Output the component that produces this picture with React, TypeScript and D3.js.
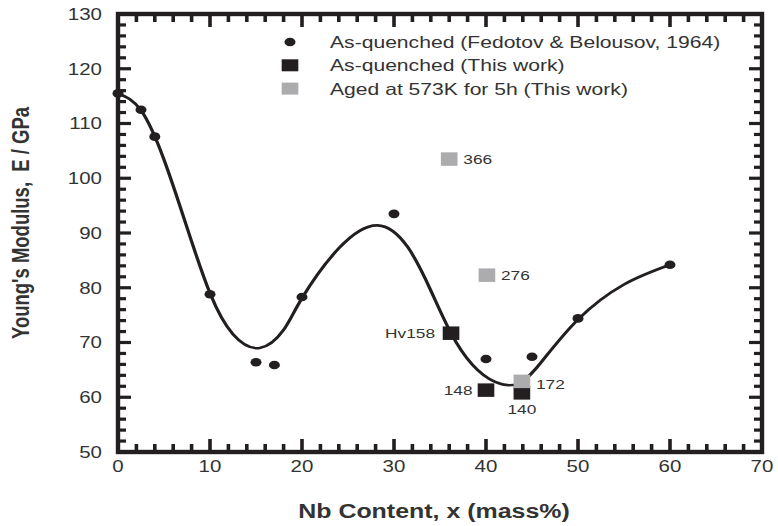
import React from 'react'
import * as d3 from 'd3'

// Fedotov & Belousov, 1964 (as-quenched)
const fedotovNb = [0, 2.5, 4, 10, 15, 17, 20, 30, 40, 45, 50, 60]
const fedotovE = [115.5, 112.5, 107.6, 78.8, 66.4, 65.9, 78.3, 93.5, 67, 67.4, 74.4, 84.2]

// this work, as-quenched
const quenchNb = [36.2, 40, 43.9]
const quenchE = [71.7, 61.3, 60.8]
const quenchLabel = ['Hv158', '148', '140']

// this work, aged at 573K for 5h
const agedNb = [36, 40.1, 43.9]
const agedE = [103.5, 82.3, 62.9]
const agedLabel = ['366', '276', '172']

// fitted guide curve
const curveNb = [0, 2.5, 5, 7.5, 10, 12.5, 15.4, 18, 20, 24, 28.2, 31.5, 34, 36.2, 38.5, 41, 43.5, 46, 50, 55, 60]
const curveE = [115.5, 112.4, 103.4, 91, 79, 71.5, 69, 72.3, 78.1, 87.2, 91.4, 87.4, 79.5, 71.7, 66, 62.8, 62.5, 66.4, 74.2, 80.6, 84.2]

const xTicks = [0, 10, 20, 30, 40, 50, 60, 70]
const yTicks = [50, 60, 70, 80, 90, 100, 110, 120, 130]

const legendItems = [
  'As-quenched (Fedotov & Belousov, 1964)',
  'As-quenched (This work)',
  'Aged at 573K for 5h (This work)',
]

const FONT = '"Liberation Sans", Arial, sans-serif'
const INK = '#231f20'
const GREY = '#acacaf'
const TXT = '#333'
// the original figure is stretched horizontally
const S = 1.28

const width = 778, height = 526
// x in unstretched units (the group is scaled by S)
const x = d3.scaleLinear().domain([0, 70]).range([118 / S, 762 / S])
const y = d3.scaleLinear().domain([50, 130]).range([452, 14])
const x0 = x.range()[0], x1 = x.range()[1]
const y0 = y.range()[0], y1 = y.range()[1]

const minorX = d3.range(0, 71, 2).filter(v => v % 10 !== 0)
const minorY = d3.range(50, 131, 2).filter(v => v % 10 !== 0)

export default function App() {
  const line = d3.line<number>()
    .x((d, i) => x(curveNb[i]))
    .y(d => y(d))
    .curve(d3.curveNatural)

  const X = (v: number) => x(v) * S
  const L = x0 * S, R = x1 * S
  const xt = xTicks.map(v => ({ v, len: 13 })).concat(minorX.map(v => ({ v, len: 8 })))
  const yt = yTicks.map(v => ({ v, len: 13 })).concat(minorY.map(v => ({ v, len: 8 })))
  const tw = 3.6, th = 3.2
  const sw = 13, sh = 13.5

  return (
    <div style={{ position: 'absolute', left: 0, top: 0, background: '#fff' }}>
      <svg width={width} height={height} style={{ fontFamily: FONT, display: 'block' }}>
        <g transform={`scale(${S},1)`}>
          {xTicks.map(d => (
            <text key={'xl' + d} x={x(d)} y={472} textAnchor="middle" fontSize={16} fill={TXT}>{d}</text>
          ))}
          {yTicks.map(d => (
            <text key={'yl' + d} x={102 / S} y={y(d) + 6} textAnchor="end" fontSize={16} fill={TXT}>{d}</text>
          ))}
          <text x={434 / S} y={518} textAnchor="middle" fontWeight="bold" fontSize={19.5} fill={TXT}>
            Nb Content, x (mass%)
          </text>
          <text transform={`translate(${29 / S},223) rotate(-90)`} textAnchor="middle" fontWeight="bold"
            fontSize={18.5} fill={TXT} style={{ whiteSpace: 'pre' }}>
            {"Young's Modulus,  E / GPa"}
          </text>

          <path d={line(curveE) || ''} fill="none" stroke={INK} strokeWidth={2.6} />

          {fedotovE.map((v, i) => (
            <circle key={'f' + i} cx={x(fedotovNb[i])} cy={y(v)} r={4.3} fill={INK} />
          ))}
          {quenchE.map((v, i) => (
            <rect key={'q' + i} x={x(quenchNb[i]) - sw / 2} y={y(v) - sh / 2} width={sw} height={sh} fill={INK} />
          ))}
          {agedE.map((v, i) => (
            <rect key={'a' + i} x={x(agedNb[i]) - sw / 2} y={y(v) - sh / 2} width={sw} height={sh} fill={GREY} />
          ))}

          <g fontSize={13.5} fill={TXT}>
            <text x={x(quenchNb[0]) - 12.5} y={y(quenchE[0]) + 5} textAnchor="end">{quenchLabel[0]}</text>
            <text x={x(quenchNb[1]) - 10.5} y={y(quenchE[1]) + 5} textAnchor="end">{quenchLabel[1]}</text>
            <text x={x(quenchNb[2])} y={y(quenchE[2]) + 21} textAnchor="middle">{quenchLabel[2]}</text>
            {agedE.map((v, i) => (
              <text key={'al' + i} x={x(agedNb[i]) + 11} y={y(v) + 5 + (i === 2 ? 3 : 0)}>{agedLabel[i]}</text>
            ))}
          </g>

          <g transform={`translate(${290 / S},42)`}>
            {legendItems.map((t, i) => (
              <g key={'lg' + i} transform={`translate(0,${i * 23.3})`}>
                {i === 0
                  ? <circle r={4.3} fill={INK} />
                  : <rect x={-6.5} y={-6} width={13} height={12} fill={i === 1 ? INK : GREY} />}
                <text x={40 / S} y={6} fontSize={16.5} fill={TXT}>{t}</text>
              </g>
            ))}
          </g>
        </g>

        {/* frame and inward ticks, in screen pixels */}
        <rect x={L} y={y1} width={R - L} height={y0 - y1} fill="none" stroke={INK} strokeWidth={4.4} />
        <g fill={INK}>
          {xt.map(d => (
            <rect key={'tb' + d.v} x={X(d.v) - tw / 2} y={y0 - d.len} width={tw} height={d.len} />
          ))}
          {xt.map(d => (
            <rect key={'tt' + d.v} x={X(d.v) - tw / 2} y={y1} width={tw} height={d.len} />
          ))}
          {yt.map(d => (
            <rect key={'tl' + d.v} x={L} y={y(d.v) - th / 2} width={d.len} height={th} />
          ))}
          {yt.map(d => (
            <rect key={'tr' + d.v} x={R - d.len} y={y(d.v) - th / 2} width={d.len} height={th} />
          ))}
        </g>
      </svg>
    </div>
  )
}
